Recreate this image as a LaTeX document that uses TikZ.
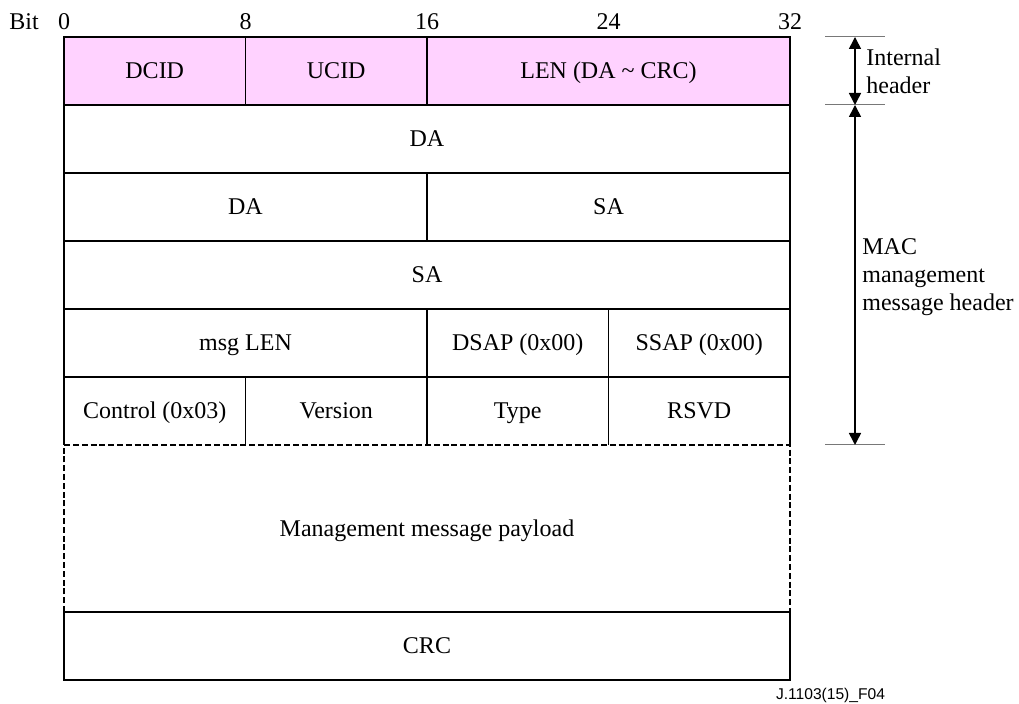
\documentclass[tikz,border=0pt]{standalone}
\usepackage{fontspec}
\setmainfont{Liberation Serif}
\newfontfamily\figsans{Liberation Sans}
\usetikzlibrary{arrows.meta}
\definecolor{hdrpink}{RGB}{255,210,255}
\definecolor{tickgray}{RGB}{120,120,120}
\begin{document}
\begin{tikzpicture}[x=0.5pt,y=-0.5pt,
  txt/.style={font=\fontsize{12}{14}\selectfont},
  fieldtxt/.style={txt, text height=9pt, text depth=1pt},
  cell/.style={fieldtxt, draw, line width=0.9pt, minimum width=#1, minimum height=34pt,
               inner sep=0pt, outer sep=0pt},
  opencell/.style={fieldtxt, minimum width=#1, minimum height=34pt, inner sep=0pt, outer sep=0pt},
  pinkcell/.style={cell=#1, fill=hdrpink},
  border/.style={line width=0.9pt},
  dashborder/.style={line width=0.9pt, dash pattern=on 3pt off 1.4pt},
  tickline/.style={draw=tickgray, line width=0.5pt},
  dim/.style={line width=0.8pt, {Triangle[width=6pt,length=6pt]}-{Triangle[width=6pt,length=6pt]}},
  side/.style={txt, align=left, inner sep=0pt, anchor=west}]
  \useasboundingbox (0,0) rectangle (1019,704);

  % bit positions
  \node[txt, anchor=base] (bit) at (24,30) {Bit};
  \node[txt, anchor=base] (b0)  at (64,30) {0};
  \node[txt, anchor=base] (b8)  at (245.5,30) {8};
  \node[txt, anchor=base] (b16) at (427,30) {16};
  \node[txt, anchor=base] (b24) at (608.5,30) {24};
  \node[txt, anchor=base] (b32) at (790,30) {32};

  % internal header
  \node[pinkcell=90.75pt]  (dcid) at (154.75,71) {DCID};
  \node[pinkcell=90.75pt]  (ucid) at (336.25,71) {UCID};
  \node[pinkcell=181.5pt]  (len)  at (608.5,71)  {LEN (DA \textasciitilde{} CRC)};

  % MAC management message header
  \node[cell=363pt]   (da1)  at (427,139)   {DA};
  \node[cell=181.5pt] (da2)  at (245.5,207) {DA};
  \node[cell=181.5pt] (sa1)  at (608.5,207) {SA};
  \node[cell=363pt]   (sa2)  at (427,275)   {SA};
  \node[cell=181.5pt] (mlen) at (245.5,343) {msg LEN};
  \node[cell=90.75pt] (dsap) at (517.75,343) {DSAP (0x00)};
  \node[cell=90.75pt] (ssap) at (699.25,343) {SSAP (0x00)};
  \node[opencell=90.75pt] (ctl) at (154.75,411) {Control (0x03)};
  \node[opencell=90.75pt] (ver) at (336.25,411) {Version};
  \node[opencell=90.75pt] (typ) at (517.75,411) {Type};
  \node[opencell=90.75pt] (rsv) at (699.25,411) {RSVD};
  \foreach \c in {ctl,ver,typ,rsv}
    \draw[border] (\c.south west) -- (\c.north west) -- (\c.north east) -- (\c.south east);

  % payload and trailer
  \node[fieldtxt, minimum width=363pt, minimum height=83.5pt, inner sep=0pt, outer sep=0pt]
       (pay) at (427,528.5) {Management message payload};
  \draw[dashborder] (pay.south west) -- (pay.north west) -- (pay.north east) -- (pay.south east);
  \node[cell=363pt] (crc) at (427,646) {CRC};

  % extent markers on the right
  \coordinate (m0) at (855,37);
  \coordinate (m1) at (855,105);
  \coordinate (m2) at (855,445);
  \foreach \m in {m0,m1,m2}
    \draw[tickline] ([xshift=-15pt]\m) -- ([xshift=15pt]\m);
  \draw[dim] (m0) -- (m1);
  \draw[dim] (m1) -- (m2);
  \node[side] (ihdr) at (866,71) {Internal\\header};
  \node[side, text depth=0pt] (mhdr) at (862,275) {MAC\\management\\message header};

  \node[anchor=base, inner sep=0pt, font=\figsans\fontsize{7.8}{9}\selectfont] (fig) at (830.5,700) {J.1103(15)\_F04};
\end{tikzpicture}
\end{document}
